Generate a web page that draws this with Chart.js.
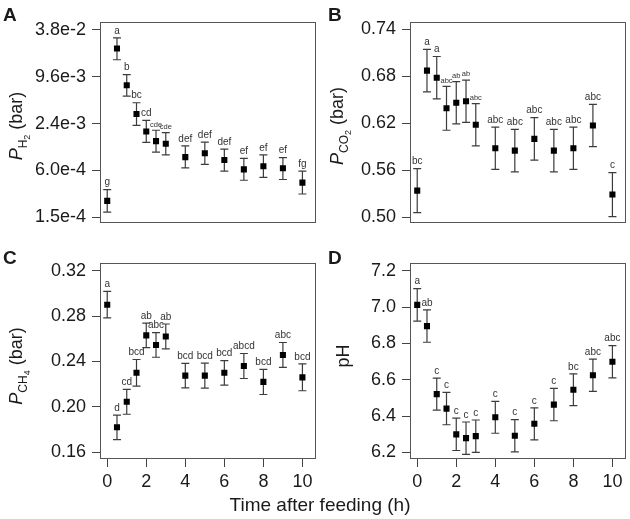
<!DOCTYPE html>
<html>
<head>
<meta charset="utf-8">
<script src="https://cdn.jsdelivr.net/npm/chart.js@4.4.1/dist/chart.umd.min.js"></script>
<style>
  body { margin: 0; background: #fff; font-family: "Liberation Sans", Arial, sans-serif; color: #1a1a1a; }
  #fig { position: relative; width: 630px; height: 519px; overflow: hidden; }
  .panel { position: absolute; }
  .tag { position: absolute; font-weight: bold; font-size: 19px; line-height: 19px; }
  .ytitle { position: absolute; white-space: nowrap; font-size: 18px; line-height: 20px;
            transform: translate(-50%, -50%) rotate(-90deg); }
  .ytitle i { font-style: italic; }
  .ytitle .s1 { font-size: 12px; position: relative; top: 5px; }
  .ytitle .s2 { font-size: 9px; position: relative; top: 3px; }
  .xtitle { position: absolute; left: 0; width: 640px; text-align: center; top: 494px; font-size: 19px; line-height: 22px; }
</style>
</head>
<body>
<div id="fig">
  <div class="panel" style="left:0;top:0;width:320px;height:240px"><canvas id="chartA"></canvas></div>
  <div class="panel" style="left:310px;top:0;width:320px;height:240px"><canvas id="chartB"></canvas></div>
  <div class="panel" style="left:0;top:240px;width:320px;height:279px"><canvas id="chartC"></canvas></div>
  <div class="panel" style="left:310px;top:240px;width:320px;height:279px"><canvas id="chartD"></canvas></div>

  <div class="tag" style="left:3px;top:5px">A</div>
  <div class="tag" style="left:328px;top:5px">B</div>
  <div class="tag" style="left:3px;top:248px">C</div>
  <div class="tag" style="left:328px;top:248px">D</div>

  <div class="ytitle" style="left:17px;top:126px"><i>P</i><span class="s1">H<span class="s2">2</span></span> (bar)</div>
  <div class="ytitle" style="left:338px;top:126px"><i>P</i><span class="s1">CO<span class="s2">2</span></span> (bar)</div>
  <div class="ytitle" style="left:17px;top:366px"><i>P</i><span class="s1">CH<span class="s2">4</span></span> (bar)</div>
  <div class="ytitle" style="left:343px;top:356px">pH</div>

  <div class="xtitle">Time after feeding (h)</div>
</div>

<script>
(function(){
  'use strict';

  // sampling times (h)
  var hours = [0, 0.5, 1, 1.5, 2, 2.5, 3, 4, 5, 6, 7, 8, 9, 10];
  var xTicks = [0, 2, 4, 6, 8, 10];

  // A - H2 partial pressure (log axis), error bar ends read directly
  var h2Mean = [2.45e-4, 2.20e-2, 7.43e-3, 3.18e-3, 1.90e-3, 1.43e-3, 1.32e-3, 8.9e-4, 1.0e-3, 8.2e-4, 6.2e-4, 6.8e-4, 6.4e-4, 4.2e-4];
  var h2Low  = [1.76e-4, 1.58e-2, 5.41e-3, 2.27e-3, 1.38e-3, 1.03e-3, 9.5e-4, 6.5e-4, 7.2e-4, 5.9e-4, 4.5e-4, 4.9e-4, 4.6e-4, 3.0e-4];
  var h2High = [3.41e-4, 3.01e-2, 1.02e-2, 4.44e-3, 2.64e-3, 1.97e-3, 1.84e-3, 1.24e-3, 1.39e-3, 1.13e-3, 8.6e-4, 9.5e-4, 8.8e-4, 5.9e-4];
  var h2Letters = ['g', 'a', 'b', 'bc', 'cd', 'cde', 'cde', 'def', 'def', 'def', 'ef', 'ef', 'ef', 'fg'];
  var h2Ticks = [1.5e-4, 6.0e-4, 2.4e-3, 9.6e-3, 3.84e-2];
  var h2TickLabels = ['1.5e-4', '6.0e-4', '2.4e-3', '9.6e-3', '3.8e-2'];

  // B - CO2
  var co2Mean = [0.534, 0.687, 0.678, 0.639, 0.646, 0.648, 0.618, 0.588, 0.585, 0.600, 0.585, 0.588, 0.617, 0.529];
  var co2Se   = [0.028, 0.027, 0.027, 0.028, 0.027, 0.027, 0.027, 0.027, 0.027, 0.027, 0.027, 0.027, 0.027, 0.028];
  var co2Letters = ['bc', 'a', 'a', 'abc', 'ab', 'ab', 'abc', 'abc', 'abc', 'abc', 'abc', 'abc', 'abc', 'c'];
  var co2Ticks = [0.50, 0.56, 0.62, 0.68, 0.74];
  var co2TickLabels = ['0.50', '0.56', '0.62', '0.68', '0.74'];

  // C - CH4
  var ch4Mean = [0.290, 0.182, 0.2045, 0.230, 0.263, 0.2545, 0.262, 0.2275, 0.2275, 0.230, 0.236, 0.222, 0.2457, 0.226];
  var ch4Se   = [0.0117, 0.0108, 0.011, 0.0117, 0.0108, 0.0108, 0.011, 0.0108, 0.011, 0.0108, 0.011, 0.0111, 0.011, 0.0118];
  var ch4Letters = ['a', 'd', 'cd', 'bcd', 'ab', 'abc', 'ab', 'bcd', 'bcd', 'bcd', 'abcd', 'bcd', 'abc', 'bcd'];
  var ch4Ticks = [0.16, 0.20, 0.24, 0.28, 0.32];
  var ch4TickLabels = ['0.16', '0.20', '0.24', '0.28', '0.32'];

  // D - pH
  var phMean = [7.013, 6.896, 6.521, 6.441, 6.299, 6.278, 6.289, 6.393, 6.291, 6.357, 6.463, 6.545, 6.625, 6.699];
  var phSe   = [0.090, 0.089, 0.088, 0.089, 0.089, 0.089, 0.089, 0.088, 0.089, 0.088, 0.089, 0.088, 0.089, 0.089];
  var phLetters = ['a', 'ab', 'c', 'c', 'c', 'c', 'c', 'c', 'c', 'c', 'c', 'bc', 'abc', 'abc'];
  var phTicks = [6.2, 6.4, 6.6, 6.8, 7.0, 7.2];
  var phTickLabels = ['6.2', '6.4', '6.6', '6.8', '7.0', '7.2'];

  var FONT = '"Liberation Sans", Arial, sans-serif';
  var BOX = '#555555';

  function minus(m, s){ return m.map(function(v, i){ return v - s[i]; }); }
  function plus(m, s){ return m.map(function(v, i){ return v + s[i]; }); }

  function makePanel(id, p){
    var marks = {
      id: 'marks',
      beforeDatasetsDraw: function(chart){
        var ctx = chart.ctx, xs = chart.scales.x, ys = chart.scales.y;
        ctx.save();
        ctx.strokeStyle = '#3c3c3c';
        ctx.lineWidth = 1.2;
        hours.forEach(function(h, i){
          var px = xs.getPixelForValue(h);
          var t = ys.getPixelForValue(p.hi[i]), b = ys.getPixelForValue(p.lo[i]);
          ctx.beginPath();
          ctx.moveTo(px, t); ctx.lineTo(px, b);
          ctx.moveTo(px - 4, t); ctx.lineTo(px + 4, t);
          ctx.moveTo(px - 4, b); ctx.lineTo(px + 4, b);
          ctx.stroke();
        });
        ctx.restore();
      },
      afterDatasetsDraw: function(chart){
        var ctx = chart.ctx, xs = chart.scales.x, ys = chart.scales.y;
        ctx.save();
        ctx.fillStyle = '#333';
        ctx.textAlign = 'center';
        ctx.textBaseline = 'bottom';
        hours.forEach(function(h, i){
          var small = (p.small || []).indexOf(i) >= 0;
          ctx.font = (small ? 7.5 : 10) + 'px ' + FONT;
          ctx.fillText(p.letters[i], xs.getPixelForValue(h), ys.getPixelForValue(p.hi[i]) - 2);
        });
        ctx.restore();
      },
      afterDraw: function(chart){
        var a = chart.chartArea, ctx = chart.ctx;
        ctx.save();
        ctx.strokeStyle = BOX;
        ctx.lineWidth = 1;
        ctx.strokeRect(Math.round(a.left) + 0.5, Math.round(a.top) + 0.5,
                       Math.round(a.right - a.left) - 1, Math.round(a.bottom - a.top) - 1);
        ctx.restore();
      }
    };

    new Chart(document.getElementById(id), {
      type: 'scatter',
      data: {
        datasets: [{
          data: hours.map(function(h, i){ return { x: h, y: p.mean[i] }; }),
          pointStyle: 'rect',
          pointRadius: 4.3,
          pointBackgroundColor: '#000',
          pointBorderWidth: 0,
          showLine: false
        }]
      },
      options: {
        responsive: true,
        maintainAspectRatio: false,
        animation: false,
        events: [],
        layout: { padding: { top: p.top, right: p.right, bottom: p.showX ? 0 : 8, left: 0 } },
        plugins: { legend: { display: false }, tooltip: { enabled: false } },
        scales: {
          x: {
            type: 'linear',
            min: -0.37, max: 10.68,
            bounds: 'data',
            display: p.showX,
            afterBuildTicks: function(s){ s.ticks = xTicks.map(function(v){ return { value: v }; }); },
            afterFit: function(s){ s.height = p.showX ? 60 : 0; },
            grid: { drawOnChartArea: false, tickLength: 8, color: '#444', lineWidth: 1 },
            border: { display: false },
            ticks: { color: '#1a1a1a', font: { family: FONT, size: 18 }, padding: 4, maxRotation: 0 }
          },
          y: {
            type: p.log ? 'logarithmic' : 'linear',
            min: p.min, max: p.max,
            bounds: 'data',
            afterBuildTicks: function(s){ s.ticks = p.ticks.map(function(v){ return { value: v }; }); },
            afterFit: function(s){ s.width = p.left; },
            grid: { drawOnChartArea: false, tickLength: 8, color: '#444', lineWidth: 1 },
            border: { display: false },
            ticks: {
              color: '#1a1a1a', font: { family: FONT, size: 18 }, padding: 6,
              callback: function(v, i){ return p.tickLabels[i]; }
            }
          }
        }
      },
      plugins: [marks]
    });
  }

  document.addEventListener('DOMContentLoaded', function(){
    makePanel('chartA', {
      mean: h2Mean, lo: h2Low, hi: h2High, letters: h2Letters, small: [5, 6],
      log: true, min: 1.266e-4, max: 0.04815, ticks: h2Ticks, tickLabels: h2TickLabels,
      top: 22, right: 2, left: 100, showX: false
    });
    makePanel('chartB', {
      mean: co2Mean, lo: minus(co2Mean, co2Se), hi: plus(co2Mean, co2Se), letters: co2Letters, small: [3, 4, 5, 6],
      min: 0.4925, max: 0.749, ticks: co2Ticks, tickLabels: co2TickLabels,
      top: 22, right: 3, left: 100, showX: false
    });
    makePanel('chartC', {
      mean: ch4Mean, lo: minus(ch4Mean, ch4Se), hi: plus(ch4Mean, ch4Se), letters: ch4Letters,
      min: 0.1541, max: 0.3267, ticks: ch4Ticks, tickLabels: ch4TickLabels,
      top: 23, right: 2, left: 100, showX: true
    });
    makePanel('chartD', {
      mean: phMean, lo: minus(phMean, phSe), hi: plus(phMean, phSe), letters: phLetters,
      min: 6.163, max: 7.244, ticks: phTicks, tickLabels: phTickLabels,
      top: 23, right: 3, left: 100, showX: true
    });
  });
})();
</script>
</body>
</html>
